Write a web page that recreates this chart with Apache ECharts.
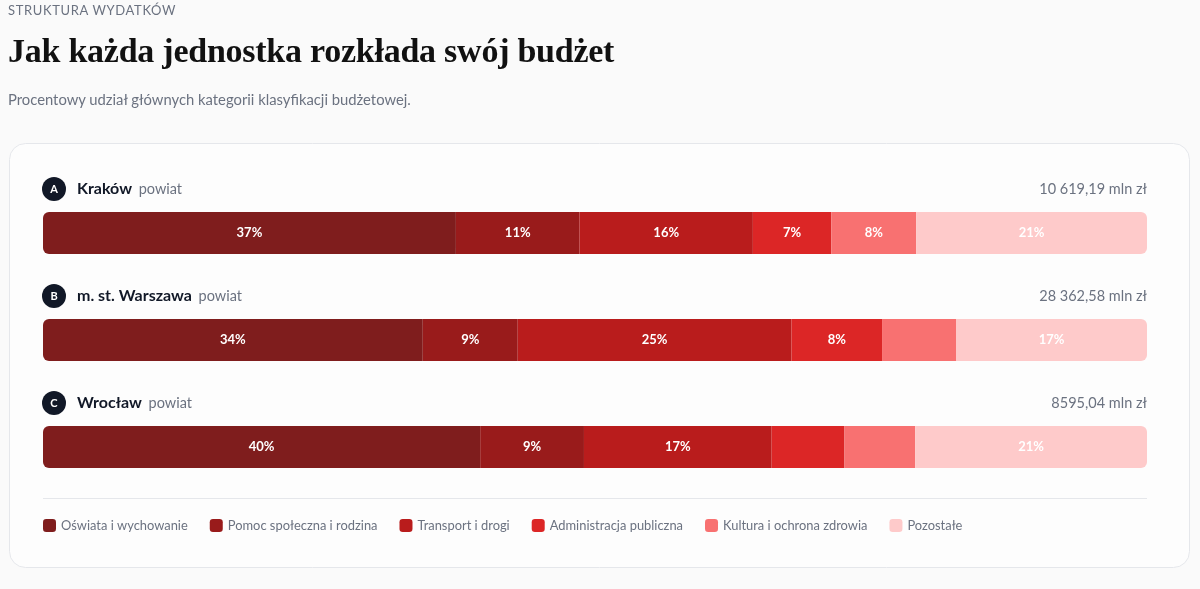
<!DOCTYPE html>
<html lang="pl">
<head>
<meta charset="utf-8">
<title>Struktura wydatków</title>
<script src="https://cdn.jsdelivr.net/npm/echarts@6/dist/echarts.min.js"></script>
<style>
  html, body { margin: 0; padding: 0; background: #fafafa; }
  body { width: 1200px; height: 589px; position: relative; overflow: hidden; font-family: Lato, "Noto Sans", sans-serif; }
  #chart { position: absolute; left: 0; top: 0; width: 1200px; height: 589px; }
  .eyebrow { position: absolute; left: 8px; top: 2px; font-size: 13px; letter-spacing: 0.65px; color: #6b7280; z-index: 2; }
  .title { position: absolute; left: 8px; top: 32px; margin: 0; font-family: "Liberation Serif", "DejaVu Serif", serif; font-size: 34px; font-weight: 700; color: #111; z-index: 2; letter-spacing: -0.25px; }
  .sub { position: absolute; left: 8px; top: 90px; font-size: 14.8px; color: #6b7280; z-index: 2; }
</style>
</head>
<body>
<div class="eyebrow">STRUKTURA WYDATKÓW</div>
<h1 class="title">Jak każda jednostka rozkłada swój budżet</h1>
<div class="sub">Procentowy udział głównych kategorii klasyfikacji budżetowej.</div>
<div id="chart"></div>
<script>
// jednostki
const units = ['Kraków', 'm. st. Warszawa', 'Wrocław']
const badges = ['A', 'B', 'C']
const unitTypes = ['powiat', 'powiat', 'powiat']
const totals = ['10 619,19 mln zł', '28 362,58 mln zł', '8595,04 mln zł']

// kategorie
const categories = [
  'Oświata i wychowanie',
  'Pomoc społeczna i rodzina',
  'Transport i drogi',
  'Administracja publiczna',
  'Kultura i ochrona zdrowia',
  'Pozostałe'
]
const colors = ['#7f1d1d', '#991b1b', '#b91c1c', '#dc2626', '#f87171', '#fecaca']

// udział % (Kraków, Warszawa, Wrocław)
const oswiata = [37.4, 34.4, 39.6]
const pomoc = [11.2, 8.6, 9.4]
const transport = [15.7, 24.8, 17.0]
const administracja = [7.1, 8.2, 6.6]
const kultura = [7.7, 6.7, 6.4]
const pozostale = [20.9, 17.3, 21.0]

const seriesData = [oswiata, pomoc, transport, administracja, kultura, pozostale]

const FONT = 'Lato'
const chart = echarts.init(document.getElementById('chart'), null, { renderer: 'canvas' })

const series = categories.map((name, i) => ({
  name,
  type: 'bar',
  stack: 'total',
  barWidth: 42,
  data: seriesData[i],
  itemStyle: {
    color: colors[i],
    borderRadius: i === 0 ? [6, 0, 0, 6] : (i === categories.length - 1 ? [0, 6, 6, 0] : 0)
  },
  label: {
    show: true,
    position: 'inside',
    color: '#fff',
    fontSize: 13,
    fontWeight: 700,
    fontFamily: FONT,
    formatter: (p) => p.value >= 7 ? Math.round(p.value) + '%' : ''
  },
  emphasis: { disabled: true }
}))

const option = {
  animation: false,
  legend: {
    left: 38,
    top: 514,
    icon: 'roundRect',
    itemWidth: 13,
    itemHeight: 13,
    itemGap: 22,
    textStyle: { fontSize: 12.9, color: '#6b7280', fontFamily: FONT },
    data: categories,
    selectedMode: false
  },
  grid: { left: 43, right: 53, top: 179.5, height: 321 },
  xAxis: { type: 'value', min: 0, max: 100, show: false },
  yAxis: { type: 'category', data: units, inverse: true, show: false },
  series
}

chart.setOption(option)

// karta, nagłówki wierszy, linia oddzielająca
const rowHeaders = []
units.forEach((u, i) => {
  const y = chart.convertToPixel({ yAxisIndex: 0 }, u) - 44
  rowHeaders.push(
    { type: 'circle', shape: { cx: 54, cy: y, r: 12 }, style: { fill: '#111827' }, z: 10 },
    { type: 'text', x: 54, y: y + 0.5, style: { text: badges[i], fill: '#fff', font: '700 11px ' + FONT, align: 'center', verticalAlign: 'middle' }, z: 11 },
    {
      type: 'text', x: 77, y: y,
      style: {
        text: '{n|' + u + '}  {p|' + unitTypes[i] + '}',
        verticalAlign: 'middle',
        rich: {
          n: { font: '700 16px ' + FONT, fill: '#111827' },
          p: { font: '14.5px ' + FONT, fill: '#6b7280' }
        }
      },
      z: 10
    },
    { type: 'text', x: 1147, y: y, style: { text: totals[i], font: '14.5px ' + FONT, fill: '#6b7280', align: 'right', verticalAlign: 'middle' }, z: 10 }
  )
})

chart.setOption({
  graphic: [
    { type: 'rect', shape: { x: 9.5, y: 143.5, width: 1180, height: 424, r: 16 }, style: { fill: '#fdfdfd', stroke: '#e5e7eb', lineWidth: 1 }, z: -10 },
    { type: 'line', shape: { x1: 43, y1: 498.5, x2: 1147, y2: 498.5 }, style: { stroke: '#e5e7eb', lineWidth: 1 }, z: 5 },
    ...rowHeaders
  ]
})

window.addEventListener('resize', () => chart.resize())
</script>
</body>
</html>
